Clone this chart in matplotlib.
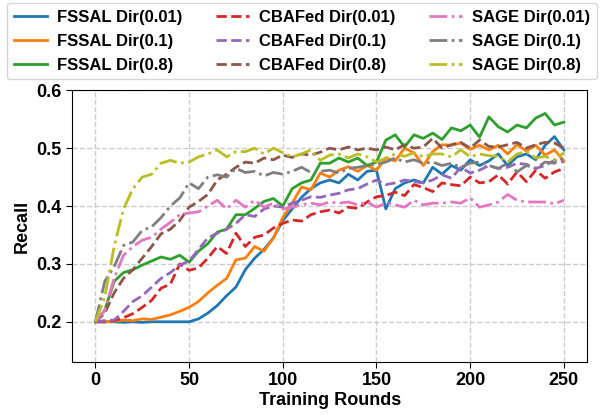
import matplotlib
matplotlib.use("Agg")
import matplotlib.pyplot as plt
import numpy as np

plt.rcParams['font.family'] = ['Liberation Sans', 'DejaVu Sans']
plt.rcParams['font.weight'] = 'bold'

# training rounds (every 5 rounds)
rounds = np.arange(0, 251, 5)

# FSSAL
fssal_001 = [0.200, 0.200, 0.200, 0.199, 0.200, 0.199, 0.200, 0.200, 0.200, 0.200,
             0.200, 0.205, 0.215, 0.228, 0.245, 0.260, 0.290, 0.310, 0.325, 0.345,
             0.375, 0.395, 0.415, 0.430, 0.440, 0.445, 0.440, 0.455, 0.445, 0.460,
             0.462, 0.395, 0.430, 0.440, 0.445, 0.440, 0.467, 0.455, 0.470, 0.462,
             0.480, 0.470, 0.478, 0.490, 0.470, 0.485, 0.490, 0.480, 0.505, 0.520,
             0.497]
fssal_01 = [0.200, 0.200, 0.201, 0.203, 0.202, 0.205, 0.204, 0.208, 0.212, 0.218,
            0.225, 0.235, 0.250, 0.263, 0.275, 0.307, 0.310, 0.330, 0.322, 0.345,
            0.380, 0.405, 0.433, 0.428, 0.457, 0.450, 0.462, 0.468, 0.460, 0.470,
            0.462, 0.483, 0.478, 0.500, 0.492, 0.470, 0.494, 0.506, 0.505, 0.509,
            0.498, 0.505, 0.497, 0.505, 0.490, 0.506, 0.495, 0.505, 0.488, 0.497,
            0.478]
fssal_08 = [0.200, 0.220, 0.270, 0.285, 0.290, 0.298, 0.305, 0.312, 0.308, 0.315,
            0.303, 0.322, 0.335, 0.355, 0.360, 0.385, 0.385, 0.396, 0.408, 0.413,
            0.400, 0.430, 0.440, 0.445, 0.474, 0.474, 0.483, 0.476, 0.483, 0.470,
            0.476, 0.514, 0.523, 0.502, 0.523, 0.517, 0.526, 0.515, 0.535, 0.530,
            0.540, 0.519, 0.554, 0.537, 0.528, 0.540, 0.535, 0.552, 0.560, 0.540,
            0.545]

# CBAFed
cbafed_001 = [0.200, 0.200, 0.202, 0.207, 0.214, 0.225, 0.237, 0.258, 0.265, 0.300,
              0.289, 0.293, 0.310, 0.330, 0.318, 0.353, 0.330, 0.346, 0.350, 0.362,
              0.370, 0.376, 0.374, 0.385, 0.390, 0.393, 0.388, 0.398, 0.396, 0.407,
              0.416, 0.418, 0.424, 0.418, 0.437, 0.432, 0.425, 0.440, 0.437, 0.435,
              0.450, 0.440, 0.442, 0.454, 0.438, 0.459, 0.442, 0.462, 0.448, 0.459,
              0.465]
cbafed_01 = [0.200, 0.202, 0.203, 0.218, 0.235, 0.245, 0.260, 0.275, 0.285, 0.298,
             0.305, 0.325, 0.345, 0.353, 0.360, 0.370, 0.385, 0.382, 0.395, 0.400,
             0.398, 0.405, 0.410, 0.416, 0.415, 0.419, 0.422, 0.428, 0.430, 0.438,
             0.445, 0.437, 0.440, 0.445, 0.442, 0.440, 0.445, 0.454, 0.448, 0.467,
             0.457, 0.462, 0.470, 0.465, 0.467, 0.474, 0.472, 0.465, 0.470, 0.479,
             0.476]
cbafed_08 = [0.200, 0.215, 0.250, 0.275, 0.290, 0.310, 0.330, 0.352, 0.360, 0.375,
             0.398, 0.408, 0.420, 0.445, 0.455, 0.467, 0.476, 0.474, 0.483, 0.480,
             0.488, 0.484, 0.490, 0.488, 0.493, 0.500, 0.497, 0.502, 0.497, 0.500,
             0.497, 0.502, 0.497, 0.506, 0.500, 0.502, 0.517, 0.500, 0.506, 0.510,
             0.500, 0.514, 0.503, 0.502, 0.506, 0.510, 0.500, 0.506, 0.510, 0.509,
             0.500]

# SAGE
sage_001 = [0.200, 0.220, 0.275, 0.315, 0.330, 0.341, 0.346, 0.360, 0.372, 0.385,
            0.388, 0.390, 0.400, 0.410, 0.395, 0.410, 0.398, 0.410, 0.398, 0.405,
            0.395, 0.398, 0.402, 0.405, 0.402, 0.407, 0.405, 0.407, 0.402, 0.407,
            0.398, 0.405, 0.402, 0.398, 0.410, 0.402, 0.405, 0.405, 0.407, 0.405,
            0.414, 0.398, 0.402, 0.407, 0.420, 0.410, 0.407, 0.407, 0.407, 0.404,
            0.410]
sage_01 = [0.200, 0.270, 0.295, 0.332, 0.338, 0.358, 0.364, 0.380, 0.400, 0.414,
           0.440, 0.430, 0.450, 0.454, 0.450, 0.465, 0.458, 0.460, 0.452, 0.458,
           0.455, 0.460, 0.467, 0.458, 0.460, 0.462, 0.457, 0.465, 0.467, 0.470,
           0.472, 0.476, 0.483, 0.476, 0.480, 0.474, 0.476, 0.470, 0.474, 0.467,
           0.474, 0.476, 0.470, 0.465, 0.474, 0.459, 0.470, 0.465, 0.476, 0.474,
           0.483]
sage_08 = [0.200, 0.243, 0.330, 0.395, 0.430, 0.450, 0.455, 0.474, 0.479, 0.474,
           0.476, 0.485, 0.490, 0.497, 0.485, 0.494, 0.494, 0.500, 0.490, 0.500,
           0.492, 0.485, 0.490, 0.497, 0.479, 0.488, 0.490, 0.483, 0.490, 0.485,
           0.476, 0.483, 0.490, 0.486, 0.492, 0.485, 0.490, 0.490, 0.485, 0.497,
           0.485, 0.490, 0.487, 0.486, 0.476, 0.490, 0.494, 0.483, 0.486, 0.480,
           0.492]

series = [
    ('FSSAL Dir(0.01)', fssal_001, '-'),
    ('FSSAL Dir(0.1)', fssal_01, '-'),
    ('FSSAL Dir(0.8)', fssal_08, '-'),
    ('CBAFed Dir(0.01)', cbafed_001, '--'),
    ('CBAFed Dir(0.1)', cbafed_01, '--'),
    ('CBAFed Dir(0.8)', cbafed_08, '--'),
    ('SAGE Dir(0.01)', sage_001, '-.'),
    ('SAGE Dir(0.1)', sage_01, '-.'),
    ('SAGE Dir(0.8)', sage_08, '-.'),
]

fig = plt.figure(figsize=(6.0, 4.15), dpi=100)
ax = fig.add_axes([0.12, 0.1284, 0.8588, 0.654])

for i, (label, vals, ls) in enumerate(series):
    ax.plot(rounds, vals, ls, color=f'C{i}', lw=2, label=label)

ax.set_xlim(-12.5, 262.5)
ax.set_ylim(0.131, 0.6)
ax.set_xticks(np.arange(0, 251, 50))
ax.set_yticks([0.2, 0.3, 0.4, 0.5, 0.6])
ax.set_yticklabels(['0.2', '0.3', '0.4', '0.5', '0.6'])
ax.tick_params(labelsize=13, length=4)
ax.grid(True, linestyle='--', color='#cccccc', lw=1)
ax.set_axisbelow(True)
ax.set_xlabel('Training Rounds', fontsize=13, fontweight='bold', labelpad=2)
ax.set_ylabel('Recall', fontsize=13, fontweight='bold', labelpad=4)

fig.legend(loc='upper left', bbox_to_anchor=(7 / 600, 1 - 3 / 415), ncol=3,
           fontsize=12, handlelength=2.0, handletextpad=0.6, columnspacing=2.0,
           labelspacing=0.54, borderaxespad=0, frameon=True)

fig.savefig('out.png', dpi=100)
